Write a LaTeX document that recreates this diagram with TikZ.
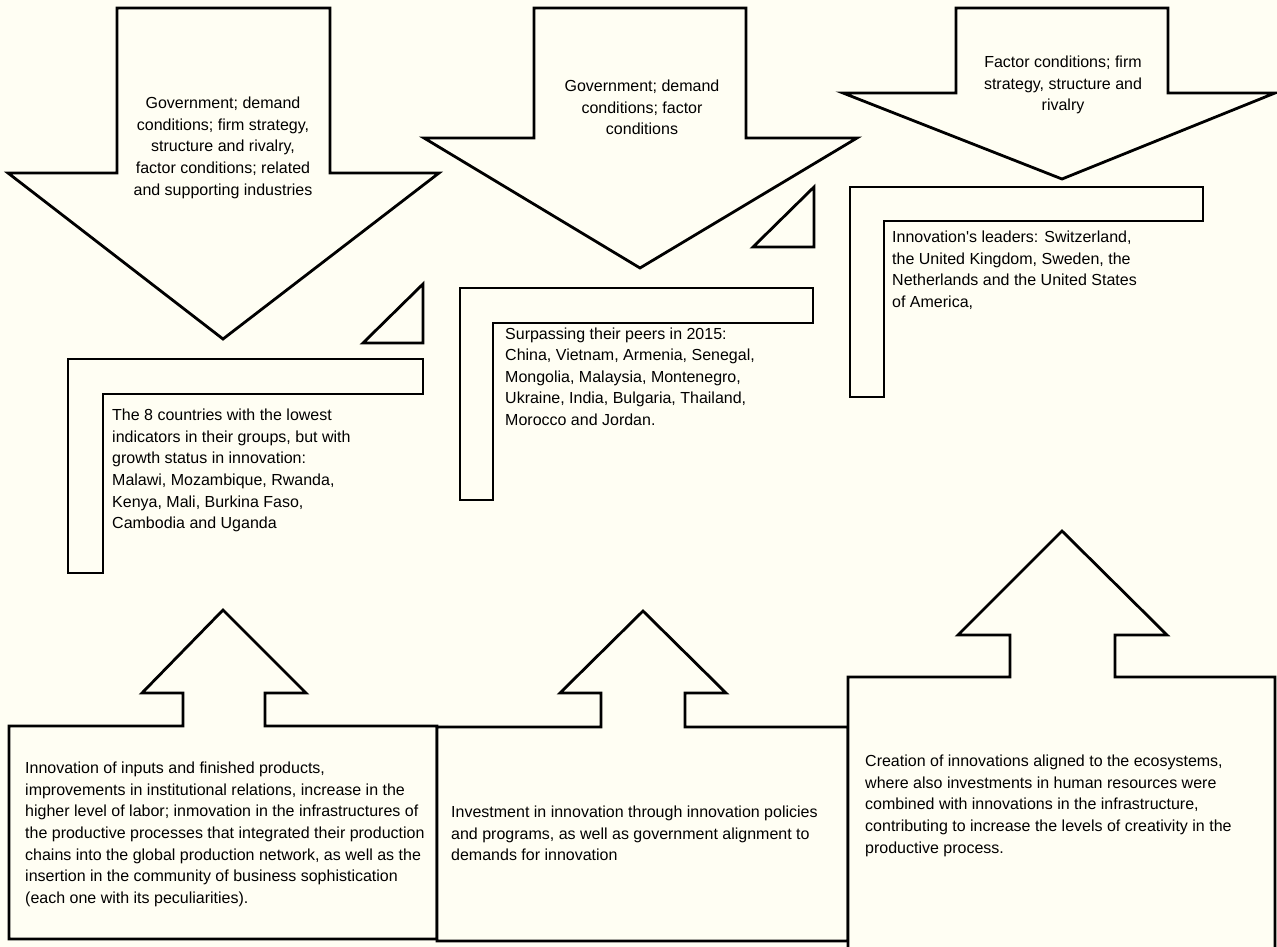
\documentclass[tikz,border=0pt]{standalone}
\usepackage{fontspec}
\setmainfont{Liberation Sans}
\definecolor{bgcream}{RGB}{255,254,243}
\begin{document}
\begin{tikzpicture}[x=1pt,y=-1pt,
  outl/.style={draw=black,line width=2.8pt,fill=bgcream,line join=miter},
  txt/.style={inner sep=0pt,font=\fontsize{16}{21.6}\selectfont},
  ltxt/.style={txt,align=left,anchor=north west,yshift=11.6pt},
  ctxt/.style={txt,align=center,anchor=north,yshift=11.6pt}]
\fill[bgcream] (0,0) rectangle (1277,947);
\useasboundingbox (0,0) rectangle (1277,947);
\clip (0,0) rectangle (1277,947);

% top down arrows
\draw[outl] (117,8) -- (330,8) -- (330,173) -- (439,173) -- (223,339) -- (8,173) -- (117,173) -- cycle;
\draw[outl] (534,8) -- (746,8) -- (746,138) -- (857,138) -- (640,268) -- (424,138) -- (534,138) -- cycle;
\draw[outl] (956,8) -- (1168,8) -- (1168,93) -- (1275,93) -- (1062,179) -- (843,93) -- (956,93) -- cycle;

% triangles
\draw[outl] (363,343) -- (423,284) -- (423,343) -- cycle;
\draw[outl] (753,247) -- (814,187) -- (814,247) -- cycle;

% L shapes
\draw[outl] (68,359) -- (423,359) -- (423,394) -- (103,394) -- (103,573) -- (68,573) -- cycle;
\draw[outl] (460,288) -- (813,288) -- (813,323) -- (493,323) -- (493,500) -- (460,500) -- cycle;
\draw[outl] (850,187) -- (1203,187) -- (1203,221) -- (884,221) -- (884,397) -- (850,397) -- cycle;

% bottom boxes with up arrows
\draw[outl] (9,726) -- (183,726) -- (183,693) -- (142,693) -- (223,610) -- (306,693) -- (265,693) -- (265,726) -- (437,726) -- (437,939) -- (9,939) -- cycle;
\draw[outl] (437,727) -- (601,727) -- (601,693) -- (560,693) -- (643,611) -- (726,693) -- (685,693) -- (685,727) -- (848,727) -- (848,941) -- (437,941) -- cycle;
\draw[outl] (848,677) -- (1010,677) -- (1010,635) -- (958,635) -- (1062,531) -- (1167,635) -- (1115,635) -- (1115,677) -- (1275,677) -- (1275,965) -- (848,965) -- cycle;

% texts
\node[ctxt] (t1) at (223,108.5) {Government; demand\\conditions; firm strategy,\\structure and rivalry,\\factor conditions; related\\and supporting industries};
\node[ctxt] (t2) at (642,91.5) {Government; demand\\conditions; factor\\conditions};
\node[ctxt] (t3) at (1063,67.5) {Factor conditions; firm\\strategy, structure and\\rivalry};

\node[ltxt] (l1) at (112,420.5) {The 8 countries with the lowest\\indicators in their groups, but with\\growth status in innovation:\\Malawi, Mozambique, Rwanda,\\Kenya, Mali, Burkina Faso,\\Cambodia and Uganda};
\node[ltxt] (l2) at (505,339) {Surpassing their peers in 2015:\\China, Vietnam, Armenia, Senegal,\\Mongolia, Malaysia, Montenegro,\\Ukraine, India, Bulgaria, Thailand,\\Morocco and Jordan.};
\node[ltxt] (l3) at (892,242.5) {Innovation\textquotesingle s leaders: Switzerland,\\the United Kingdom, Sweden, the\\Netherlands and the United States\\of America,};

\node[ltxt] (b1) at (25,773.5) {Innovation of inputs and finished products,\\improvements in institutional relations, increase in the\\higher level of labor; inmovation in the infrastructures of\\the productive processes that integrated their production\\chains into the global production network, as well as the\\insertion in the community of business sophistication\\(each one with its peculiarities).};
\node[ltxt] (b2) at (451,817.5) {Investment in innovation through innovation policies\\and programs, as well as government alignment to\\demands for innovation};
\node[ltxt] (b3) at (865,766.5) {Creation of innovations aligned to the ecosystems,\\where also investments in human resources were\\combined with innovations in the infrastructure,\\contributing to increase the levels of creativity in the\\productive process.};
\end{tikzpicture}
\end{document}
